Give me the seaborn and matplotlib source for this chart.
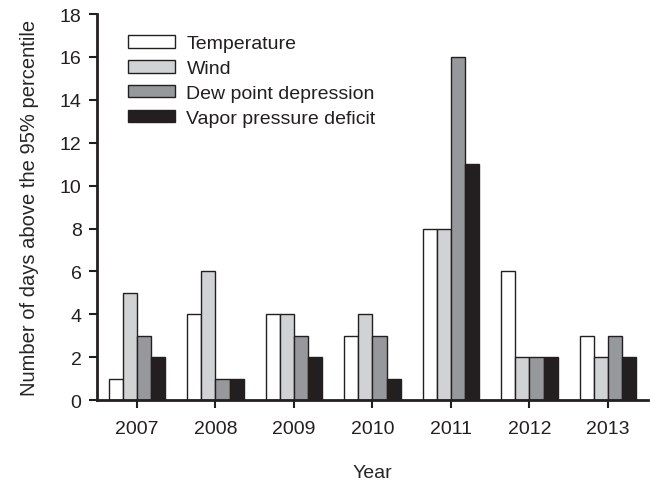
import matplotlib
matplotlib.use("Agg")
import matplotlib.pyplot as plt
import seaborn as sns
import pandas as pd

years = ["2007", "2008", "2009", "2010", "2011", "2012", "2013"]
temperature = [1, 4, 4, 3, 8, 6, 3]
wind = [5, 6, 4, 4, 8, 2, 2]
dew_point = [3, 1, 3, 3, 16, 2, 3]
vpd = [2, 1, 2, 1, 11, 2, 2]

series_names = ["Temperature", "Wind", "Dew point depression", "Vapor pressure deficit"]
series_values = [temperature, wind, dew_point, vpd]
colors = ["#ffffff", "#d1d2d4", "#97989b", "#231f20"]

rows = []
for name, vals in zip(series_names, series_values):
    for y, v in zip(years, vals):
        rows.append({"Year": y, "Variable": name, "Days": v})
df = pd.DataFrame(rows)

sns.set_style("ticks")
plt.rcParams["font.family"] = ["Liberation Sans", "DejaVu Sans"]

fig = plt.figure(figsize=(6.5, 4.85), dpi=100)
ax = fig.add_axes([0.149, 0.173, 0.848, 0.796])

sns.barplot(data=df, x="Year", y="Days", hue="Variable", order=years,
            hue_order=series_names, palette=colors, width=0.72,
            edgecolor="#231f20", linewidth=1.0, saturation=1, ax=ax,
            errorbar=None)

ax.set_ylim(0, 18)
ax.set_yticks(range(0, 19, 2))
ax.set_xlim(-0.51, 6.51)
ax.set_ylabel("Number of days above the 95% percentile", fontsize=14.5, labelpad=15)
ax.set_xlabel("Year", fontsize=14, labelpad=20)
ax.tick_params(axis="both", labelsize=14, direction="out", length=6, width=1.5,
               color="#231f20", labelcolor="#231f20")
ax.tick_params(axis="x", pad=8)
ax.tick_params(axis="y", pad=5)
for side in ["top", "right"]:
    ax.spines[side].set_visible(False)
for side in ["left", "bottom"]:
    ax.spines[side].set_linewidth(2)
    ax.spines[side].set_color("#231f20")

leg = ax.legend(loc="upper left", bbox_to_anchor=(0.025, 0.99), frameon=False,
                fontsize=14, handlelength=2.4, handleheight=0.6,
                handletextpad=0.6, labelspacing=0.4)
for t in leg.get_texts():
    t.set_color("#231f20")

fig.savefig("out.png", dpi=100)
